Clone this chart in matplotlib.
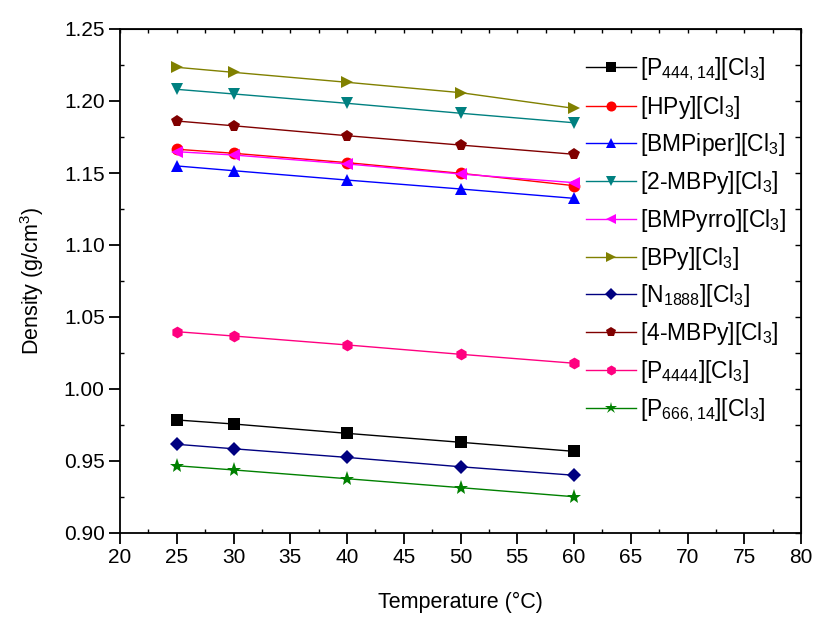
import matplotlib.pyplot as plt
from matplotlib.ticker import MultipleLocator

plt.rcParams['font.family'] = ['Liberation Sans', 'DejaVu Sans']
plt.rcParams['mathtext.fontset'] = 'custom'
plt.rcParams['mathtext.rm'] = 'Liberation Sans'
plt.rcParams['mathtext.default'] = 'regular'

temps = [25, 30, 40, 50, 60]

p444_14 = [0.9785, 0.9757, 0.9692, 0.9630, 0.9567]
hpy = [1.1665, 1.1637, 1.1572, 1.1498, 1.1412]
bmpiper = [1.1549, 1.1516, 1.1451, 1.1389, 1.1324]
mbpy2 = [1.2081, 1.2049, 1.1984, 1.1915, 1.1849]
bmpyrro = [1.1648, 1.1625, 1.1563, 1.1493, 1.1433]
bpy = [1.2234, 1.2199, 1.2130, 1.2058, 1.1949]
n1888 = [0.9616, 0.9585, 0.9525, 0.9460, 0.9401]
mbpy4 = [1.1861, 1.1828, 1.1759, 1.1694, 1.1630]
p4444 = [1.0398, 1.0368, 1.0306, 1.0241, 1.0179]
p666_14 = [0.9467, 0.9438, 0.9377, 0.9315, 0.9252]

series = [
    (p444_14, r'[P$_{444,14}$][Cl$_3$]', 's', 'black'),
    (hpy, r'[HPy][Cl$_3$]', 'o', 'red'),
    (bmpiper, r'[BMPiper][Cl$_3$]', '^', 'blue'),
    (mbpy2, r'[2-MBPy][Cl$_3$]', 'v', '#008080'),
    (bmpyrro, r'[BMPyrro][Cl$_3$]', '<', 'magenta'),
    (bpy, r'[BPy][Cl$_3$]', '>', '#808000'),
    (n1888, r'[N$_{1888}$][Cl$_3$]', 'D', '#000080'),
    (mbpy4, r'[4-MBPy][Cl$_3$]', 'p', '#800000'),
    (p4444, r'[P$_{4444}$][Cl$_3$]', 'h', '#FF0080'),
    (p666_14, r'[P$_{666,14}$][Cl$_3$]', '*', '#008000'),
]

fig = plt.figure(figsize=(8.18, 6.19), dpi=100)
ax = fig.add_axes([120 / 818, 1 - 533 / 619, 681 / 818, 504 / 619])

for vals, label, mk, col in series:
    ms = 11 if mk == '*' else 8.5
    if mk == 'D':
        ms = 7.5
    ax.plot(temps, vals, marker=mk, color=col, lw=1, ms=ms,
            markeredgewidth=0, label=label)

ax.set_xlim(20, 80)
ax.set_ylim(0.90, 1.25)
ax.xaxis.set_major_locator(MultipleLocator(5))
ax.xaxis.set_minor_locator(MultipleLocator(2.5))
ax.yaxis.set_major_locator(MultipleLocator(0.05))
ax.yaxis.set_minor_locator(MultipleLocator(0.025))
ax.yaxis.set_major_formatter(plt.FormatStrFormatter('%.2f'))

for s in ax.spines.values():
    s.set_linewidth(1.3)
ax.tick_params(which='major', direction='out', length=8, width=1.3,
               labelsize=15, pad=3)
ax.tick_params(which='minor', direction='in', length=3, width=1.0)

# top and right: short inward ticks (Origin style)
top = ax.secondary_xaxis('top')
top.xaxis.set_major_locator(MultipleLocator(2.5))
top.tick_params(direction='in', length=3, width=1.0, labeltop=False)
right = ax.secondary_yaxis('right')
right.yaxis.set_major_locator(MultipleLocator(0.025))
right.tick_params(direction='in', length=4, width=1.0, labelright=False)

ax.set_xlabel('Temperature (°C)', fontsize=15.5, labelpad=18)
ax.set_ylabel('Density (g/cm$^3$)', fontsize=15.5, labelpad=13)

ax.legend(loc='upper left', bbox_to_anchor=(586 / 818, 1 - 55 / 619),
          bbox_transform=fig.transFigure, frameon=False, fontsize=16.5,
          handlelength=2.2, handletextpad=0.15, labelspacing=0.47,
          borderpad=0, borderaxespad=0, markerscale=0.85)

fig.savefig('out.png', dpi=100)
